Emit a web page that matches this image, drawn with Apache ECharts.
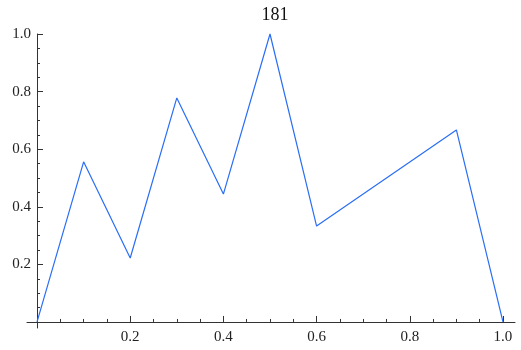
<!DOCTYPE html>
<html>
<head>
<meta charset="utf-8">
<script src="https://cdn.jsdelivr.net/npm/echarts@6/dist/echarts.min.js"></script>
<style>
  html, body { margin: 0; padding: 0; background: #fff; }
  #chart { width: 521px; height: 350px; }
</style>
</head>
<body>
<div id="chart"></div>
<script>
// Plot title and sample points
const titleText = '181';
const xValues = [0, 0.1, 0.2, 0.3, 0.4, 0.5, 0.6, 0.9, 1.0];
const yValues = [0, 0.556, 0.222, 0.778, 0.444, 1.0, 0.333, 0.667, 0];

// Tick positions
const xMajorTicks = [0, 0.2, 0.4, 0.6, 0.8, 1.0];
const xTickLabels = [0.2, 0.4, 0.6, 0.8, 1.0];
const yMajorTicks = [0, 0.2, 0.4, 0.6, 0.8, 1.0];
const yTickLabels = [0.2, 0.4, 0.6, 0.8, 1.0];
const minorStep = 0.05;

function minorValues(majors) {
  const out = [];
  for (let i = 0; i < majors.length - 1; i++) {
    for (let k = 1; k < 4; k++) out.push(+(majors[i] + k * minorStep).toFixed(2));
  }
  return out;
}

const points = xValues.map((x, i) => [x, yValues[i]]);
const font = 'Liberation Serif';
const textColor = '#222';
const axisColor = '#333';

const chart = echarts.init(document.getElementById('chart'), null, { renderer: 'canvas' });

function xAxisDef(ticks, len, withLabels, withLine) {
  return {
    type: 'value',
    position: 'bottom',
    min: -0.0215,
    max: 1.0258,
    axisLine: { show: withLine, onZero: true, lineStyle: { color: axisColor, width: 1 } },
    axisTick: { show: true, inside: true, length: len, customValues: ticks, lineStyle: { color: axisColor } },
    axisLabel: {
      show: withLabels,
      customValues: withLabels ? xTickLabels : [],
      margin: 2,
      color: textColor,
      fontFamily: font,
      fontSize: 15,
      formatter: v => v.toFixed(1)
    },
    splitLine: { show: false }
  };
}

function yAxisDef(ticks, len, withLabels, withLine) {
  return {
    type: 'value',
    position: 'left',
    min: -0.021,
    max: 1.0,
    axisLine: { show: withLine, onZero: true, lineStyle: { color: axisColor, width: 1 } },
    axisTick: { show: true, inside: true, length: len, customValues: ticks, lineStyle: { color: axisColor } },
    axisLabel: {
      show: withLabels,
      customValues: withLabels ? yTickLabels : [],
      margin: -4,
      color: textColor,
      fontFamily: font,
      fontSize: 15,
      formatter: v => v.toFixed(1)
    },
    splitLine: { show: false }
  };
}

chart.setOption({
  animation: false,
  backgroundColor: '#fff',
  title: {
    text: titleText,
    left: 270,
    top: 1,
    textAlign: 'center',
    textStyle: { fontFamily: font, fontWeight: 'normal', fontSize: 18, color: '#111' }
  },
  grid: { left: 27, right: 6, top: 34, bottom: 22, containLabel: false },
  xAxis: [
    xAxisDef(xMajorTicks, 6, true, true),
    xAxisDef(minorValues(xMajorTicks), 3, false, false)
  ],
  yAxis: [
    yAxisDef(yMajorTicks, 6, true, true),
    yAxisDef(minorValues(yMajorTicks), 3, false, false)
  ],
  series: [{
    type: 'line',
    xAxisIndex: 0,
    yAxisIndex: 0,
    data: points,
    showSymbol: false,
    symbol: 'none',
    lineStyle: { color: '#2a6ef5', width: 1.2 },
    clip: false
  }]
});
</script>
</body>
</html>
